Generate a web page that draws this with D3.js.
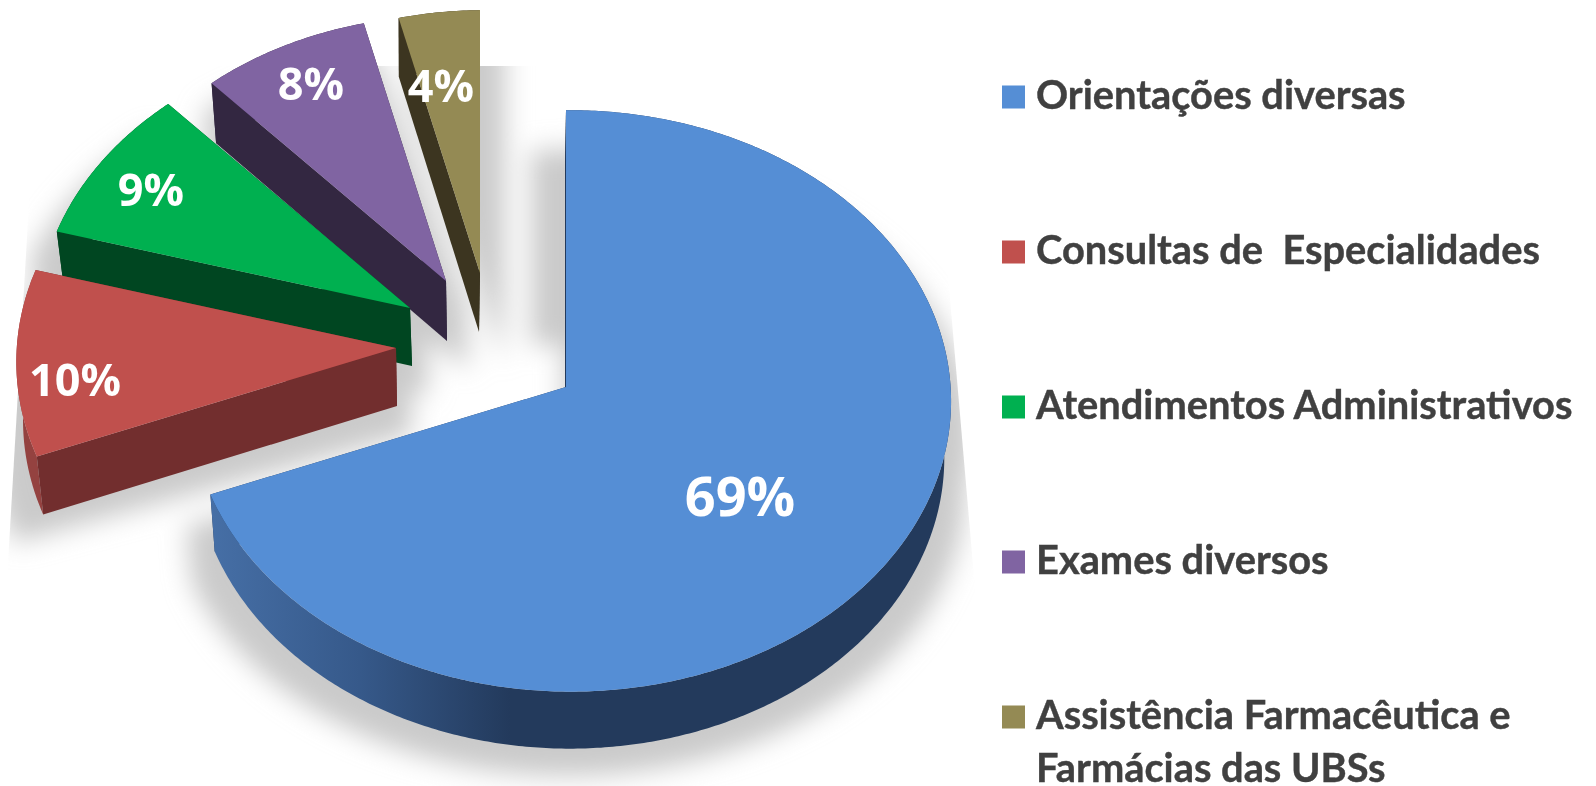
<!DOCTYPE html>
<html>
<head>
<meta charset="utf-8">
<script src="https://cdnjs.cloudflare.com/ajax/libs/d3/7.8.5/d3.min.js"></script>
<style>
  body { margin: 0; background: #fff; }
  svg { display: block; }
  .legend text { font-family: Lato, sans-serif; font-weight: 700; font-size: 39.8px; fill: #404040; stroke: #404040; stroke-width: 0.4px; white-space: pre; }
  .value { font-family: "Open Sans", sans-serif; font-weight: 700; fill: #fff; text-anchor: middle; }
</style>
</head>
<body>
<div id="chart"></div>
<script>
// data (slice sizes estimated, labels show them rounded)
const categories = ["Orientações diversas", "Consultas de  Especialidades", "Atendimentos Administrativos", "Exames diversos", "Assistência Farmacêutica e\nFarmácias das UBSs"];
const values = [69, 10.4, 8.9, 7.9, 3.8];

// colours
const topColors = ["#558ed5", "#c0504d", "#00b050", "#8064a2", "#948a54"];
const wallColors = ["#233a5c", "#722e2e", "#004621", "#332741", "#3c3520"];
const bandColors = ["url(#blueWall)", "#944240", "#004621", "#332741", "#3c3520"];

// layout of each exploded slice: apex on screen, thickness, radius factor
const apexX = [566, 396, 410, 446, 480];
const apexY = [387, 348, 308, 281, 273];
const bottomDx = [-1, 1, 2, 1, -1];
const depth = [57, 58, 58, 60, 59];
const radiusK = [1, 1.01, 0.99, 0.96, 0.95];
const labelX = [740, 75, 151, 311, 441];
const labelY = [497, 380, 190, 84, 86];
const labelSize = [54, 45, 45, 45, 45];

const width = 1596, height = 786;
const legendX = 1002, legendText = 1036, legendTop = 97, legendStep = 155, legendLine = 53;

const svg = d3.select("#chart").append("svg")
    .attr("width", width)
    .attr("height", height);

const defs = svg.append("defs");
defs.append("filter")
    .attr("id", "soft")
    .attr("filterUnits", "userSpaceOnUse")
    .attr("x", -100).attr("y", -100).attr("width", 1300).attr("height", 1000)
    .append("feGaussianBlur")
    .attr("stdDeviation", 13);

const grad = defs.append("linearGradient")
    .attr("id", "blueWall")
    .attr("gradientUnits", "userSpaceOnUse")
    .attr("x1", 210).attr("x2", 510).attr("y1", 0).attr("y2", 0);
grad.append("stop").attr("offset", 0).attr("stop-color", "#466fa6");
grad.append("stop").attr("offset", 0.5).attr("stop-color", "#36598a");
grad.append("stop").attr("offset", 1).attr("stop-color", "#233a5c");

// the shadow is cut off by a trapezoid in the original
defs.append("clipPath").attr("id", "shadowClip")
    .append("polygon")
    .attr("points", "37,66 930,66 992,786 -5,786");

const arcs = d3.pie().sort(null).value(d => d)(values);

const xScale = d3.scaleLinear().domain([-1, 1]).range([-380, 380]);
const yScale = d3.scaleLinear().domain([-1, 1]).range([-290, 290]);
const lineGen = d3.line();

// slight perspective, the far side of the pie comes out smaller
function rimPoint(i, ang, bottom) {
    const u = Math.sin(ang), v = -Math.cos(ang);
    const w = 1 - 0.048 * v - 0.012 * u;
    const k = radiusK[i];
    return [
        apexX[i] + (bottom ? bottomDx[i] : 0) + k * (bottom ? 0.985 : 1) * xScale(u) / w,
        apexY[i] + (bottom ? depth[i] : 0) + k * yScale(v) / w
    ];
}

function rim(i, bottom) {
    const a = arcs[i];
    return d3.range(a.startAngle, a.endAngle, 0.01).concat([a.endAngle]).map(t => rimPoint(i, t, bottom));
}

function slicePaths(i) {
    const a = arcs[i];
    const apexTop = [apexX[i], apexY[i]];
    const apexBottom = [apexX[i] + bottomDx[i], apexY[i] + depth[i]];
    const rimTop = rim(i, false), rimBottom = rim(i, true);
    return {
        top: lineGen([apexTop, ...rimTop]) + "Z",
        bottom: lineGen([apexBottom, ...rimBottom]) + "Z",
        start: lineGen([apexTop, rimPoint(i, a.startAngle, false), rimPoint(i, a.startAngle, true), apexBottom]) + "Z",
        end: lineGen([apexTop, rimPoint(i, a.endAngle, false), rimPoint(i, a.endAngle, true), apexBottom]) + "Z",
        band: lineGen([...rimTop, ...rimBottom.reverse()]) + "Z"
    };
}

const paths = values.map((d, i) => slicePaths(i));

// shadow
const shadowTransforms = [
    "translate(-36,40) scale(1.06,0.983)",
    "translate(-33,28) scale(1.12,1)",
    "translate(-33,28) scale(1.12,1)",
    "translate(-33,28) scale(1.12,1)",
    "translate(-33,28) scale(1.12,1)"
];
const shadow = svg.append("g")
    .attr("clip-path", "url(#shadowClip)")
    .append("g")
    .attr("filter", "url(#soft)")
    .attr("fill", "#cacaca");
paths.forEach((p, i) => {
    const g = shadow.append("g").attr("transform", shadowTransforms[i]);
    ["top", "bottom", "start", "end", "band"].forEach(k => g.append("path").attr("d", p[k]));
});
// wide band behind the vertical edge of the big slice
shadow.append("path")
    .attr("d", lineGen([[apexX[0], 150], [apexX[0], 345]]))
    .attr("fill", "none")
    .attr("stroke", "#cacaca")
    .attr("stroke-width", 70);

// slices, far ones first
const order = [4, 3, 2, 1, 0];
const slices = svg.selectAll("g.slice")
    .data(order)
    .join("g")
    .attr("class", "slice");
slices.append("path").attr("d", i => paths[i].end).attr("fill", i => wallColors[i]);
slices.append("path").attr("d", i => paths[i].band).attr("fill", i => bandColors[i]);
slices.append("path").attr("d", i => paths[i].start).attr("fill", i => wallColors[i]);
slices.append("path").attr("d", i => paths[i].top).attr("fill", i => topColors[i]);

// percentages
svg.selectAll("text.value")
    .data(values)
    .join("text")
    .attr("class", "value")
    .attr("x", (d, i) => labelX[i])
    .attr("y", (d, i) => labelY[i])
    .attr("dy", "0.36em")
    .attr("font-size", (d, i) => labelSize[i])
    .text(d => Math.round(d) + "%");

// legend
const legend = svg.append("g").attr("class", "legend");
categories.forEach((c, i) => {
    const y = legendTop + i * legendStep;
    legend.append("rect")
        .attr("x", legendX).attr("y", y - 11.5)
        .attr("width", 23).attr("height", 23)
        .attr("fill", topColors[i]);
    c.split("\n").forEach((line, j) => {
        legend.append("text")
            .attr("x", legendText)
            .attr("y", y + 12 + j * legendLine)
            .text(line);
    });
});
</script>
</body>
</html>
